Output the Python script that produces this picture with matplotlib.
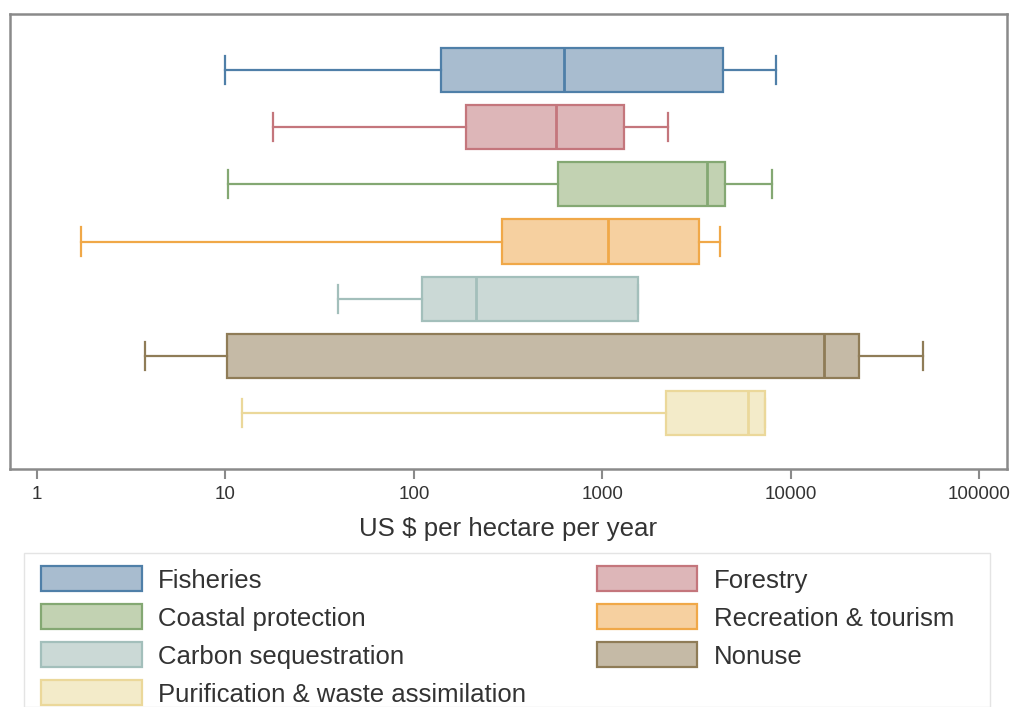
import matplotlib
matplotlib.use("Agg")
import matplotlib.pyplot as plt
from matplotlib.patches import Patch, Rectangle

plt.rcParams['font.family'] = ['Liberation Sans', 'DejaVu Sans']

categories = ["Fisheries", "Forestry", "Coastal protection", "Recreation & tourism",
              "Carbon sequestration", "Nonuse", "Purification & waste assimilation"]
whisker_low = [10, 17.9, 10.3, 1.71, 39.5, 3.74, 12.2]
q1 = [139, 189, 581, 293, 110, 10.2, 2170]
median = [625, 567, 3580, 1070, 213, 14960, 5900]
q3 = [4360, 1300, 4470, 3250, 1540, 22950, 7280]
whisker_high = [8320, 2225, 7930, 4200, 1540, 50200, 7280]

edge_colors = ["#4f7fa8", "#c4767c", "#84a873", "#f0a848", "#a3bfbb", "#8f7c57", "#ebd89a"]
fill_colors = ["#a8bccf", "#ddb6b8", "#c2d2b2", "#f6d0a0", "#cbd9d6", "#c5baa6", "#f3ebc9"]

tick_values = [1, 10, 100, 1000, 10000, 100000]
tick_labels = ["1", "10", "100", "1000", "10000", "100000"]

fig = plt.figure(figsize=(10.16, 7.07), dpi=100)
W, H = 1016, 707
ax = fig.add_axes([10 / W, 1 - 469 / H, (1007 - 10) / W, (469 - 14) / H])

for i, cat in enumerate(categories):
    stats = [dict(whislo=whisker_low[i], q1=q1[i], med=median[i], q3=q3[i],
                  whishi=whisker_high[i], fliers=[], label=cat)]
    ec = edge_colors[i]
    ax.bxp(stats, positions=[i], widths=0.77, capwidths=0.49,
           orientation='horizontal', patch_artist=True, showfliers=False,
           manage_ticks=False,
           boxprops=dict(facecolor=fill_colors[i], edgecolor=ec, linewidth=1.6),
           whiskerprops=dict(color=ec, linewidth=1.6),
           capprops=dict(color=ec, linewidth=1.6),
           medianprops=dict(color=ec, linewidth=2.0))

ax.set_xscale('log')
ax.set_xlim(10 ** -0.143, 10 ** 5.146)
ax.set_ylim(6.97, -0.97)
ax.set_yticks([])
ax.set_xticks(tick_values)
ax.set_xticklabels(tick_labels)
ax.xaxis.set_minor_locator(matplotlib.ticker.NullLocator())
ax.tick_params(axis='x', length=7, width=1.5, color='#8a8a8a', labelsize=13.5,
               labelcolor='#333333', pad=5)
for s in ax.spines.values():
    s.set_color('#8a8a8a')
    s.set_linewidth(1.8)
ax.set_xlabel("US $ per hectare per year", fontsize=18.6, color='#333333', labelpad=10)

# legend frame
fig.patches.append(Rectangle((24 / W, 0), (990 - 24) / W, 1 - 553 / H,
                             transform=fig.transFigure, facecolor='white',
                             edgecolor='#e4e4e4', linewidth=1.0, zorder=0))

order = [0, 2, 4, 6, 1, 3, 5]
handles = [Patch(facecolor=fill_colors[i], edgecolor=edge_colors[i], linewidth=1.6,
                 label=categories[i]) for i in order]
leg = fig.legend(handles=handles, loc='upper left', ncol=2,
                 bbox_to_anchor=(28 / W, 1 - 553 / H),
                 fontsize=18.5, frameon=False, borderpad=0.52,
                 handlelength=3.9, handleheight=1.12, handletextpad=0.65,
                 labelspacing=0.46, columnspacing=2.75, borderaxespad=0)
for t in leg.get_texts():
    t.set_color('#333333')

fig.savefig("out.png", dpi=100, facecolor='white')
